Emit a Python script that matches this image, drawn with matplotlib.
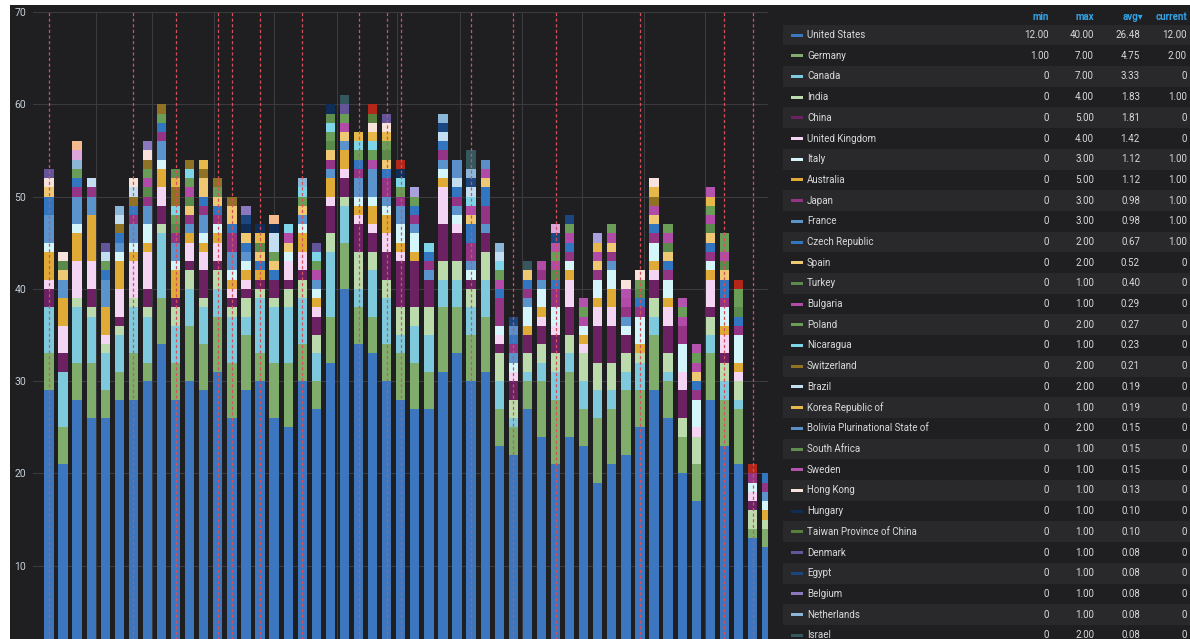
import numpy as np
import matplotlib.pyplot as plt
from matplotlib.patches import Rectangle

# ---- data: 52 weekly bars, values per country (stacked) ----
n_bars = 52

united_states = [29, 21, 28, 26, 26, 28, 28, 30, 34, 28, 30, 29, 31, 26, 29, 30, 26, 25, 30, 27,
                 32, 40, 34, 33, 30, 28, 27, 27, 31, 33, 30, 31, 23, 22, 27, 24, 21, 24, 23, 19,
                 21, 22, 25, 29, 26, 20, 17, 28, 23, 21, 13, 12]
germany = [4, 4, 4, 6, 3, 3, 5, 2, 5, 4, 6, 5, 6, 6, 6, 3, 6, 7, 4, 3,
           5, 5, 4, 4, 4, 5, 5, 4, 7, 5, 5, 6, 4, 3, 3, 6, 7, 7, 4, 7,
           6, 7, 4, 6, 4, 4, 4, 5, 5, 6, 1, 2]
canada = [5, 6, 6, 5, 4, 4, 5, 5, 7, 4, 4, 4, 3, 5, 2, 6, 6, 6, 5, 3,
          7, 4, 2, 5, 5, 2, 4, 4, 3, 3, 3, 4, 3, 1, 1, 2, 3, 2, 3, 3,
          2, 2, 3, 2, 1, 0, 0, 2, 2, 1, 0, 0]
india = [0, 0, 1, 1, 1, 1, 1, 1, 1, 2, 2, 1, 2, 1, 2, 1, 1, 2, 2, 2,
         2, 1, 4, 2, 2, 3, 2, 3, 2, 2, 2, 3, 3, 2, 2, 2, 2, 2, 3, 3,
         3, 2, 1, 2, 2, 2, 3, 2, 2, 2, 2, 1]
china = [2, 2, 0, 2, 0, 1, 0, 2, 2, 1, 1, 3, 1, 1, 1, 1, 2, 1, 1, 2,
         3, 2, 3, 2, 3, 5, 5, 3, 4, 3, 1, 2, 1, 2, 2, 2, 2, 3, 0, 4,
         4, 2, 0, 2, 3, 3, 0, 1, 1, 0, 1, 0]
united_kingdom = [1, 3, 4, 3, 1, 3, 4, 4, 2, 0, 2, 2, 2, 1, 1, 0, 0, 2, 2, 1,
                  1, 1, 1, 1, 2, 1, 0, 0, 4, 1, 0, 0, 1, 1, 0, 1, 1, 3, 1, 2,
                  2, 0, 0, 1, 2, 2, 1, 3, 2, 1, 1, 0]
australia = [3, 3, 3, 5, 3, 3, 1, 1, 2, 3, 1, 1, 1, 1, 1, 1, 0, 0, 2, 1,
             2, 2, 1, 2, 2, 1, 1, 0, 1, 0, 0, 0, 0, 0, 1, 1, 0, 1, 1, 1,
             2, 0, 1, 1, 1, 0, 0, 1, 1, 1, 0, 1]
italy = [1, 0, 1, 0, 0, 1, 1, 2, 1, 1, 0, 1, 1, 1, 1, 0, 0, 1, 1, 1,
         0, 0, 1, 1, 1, 2, 2, 0, 1, 1, 1, 0, 1, 1, 2, 2, 2, 1, 1, 2,
         2, 1, 3, 2, 2, 3, 3, 1, 2, 3, 1, 1]
france = [3, 2, 3, 2, 3, 1, 2, 2, 2, 2, 1, 2, 0, 2, 1, 0, 0, 0, 1, 1,
          1, 1, 2, 3, 1, 2, 1, 1, 1, 1, 1, 1, 0, 1, 1, 1, 0, 0, 0, 0,
          1, 1, 0, 0, 0, 0, 0, 0, 0, 0, 0, 1]
japan = [0, 0, 1, 1, 0, 0, 1, 1, 1, 1, 1, 1, 1, 2, 0, 0, 0, 0, 0, 0,
         1, 0, 1, 0, 2, 1, 1, 1, 1, 1, 2, 2, 3, 1, 1, 1, 2, 1, 0, 1,
         1, 1, 1, 1, 1, 2, 1, 1, 1, 1, 1, 1]
czech = [2, 0, 1, 0, 1, 1, 1, 0, 1, 0, 0, 1, 1, 1, 1, 1, 1, 0, 0, 0,
         0, 0, 1, 0, 1, 0, 1, 1, 1, 1, 2, 2, 1, 1, 1, 0, 1, 1, 0, 0,
         0, 0, 1, 1, 1, 0, 1, 1, 2, 1, 0, 1]
# smaller series: {bar index: count}
spain = {0: 1, 1: 1, 10: 1, 11: 2, 12: 1, 13: 2, 14: 1, 15: 1, 16: 1, 17: 1, 18: 1, 20: 1,
         21: 1, 24: 1, 30: 1, 31: 1, 34: 1, 39: 1, 40: 1, 43: 1, 44: 1, 46: 1, 47: 1, 48: 1}
turkey = {1: 1, 7: 1, 9: 1, 10: 1, 15: 1, 20: 1, 24: 1, 36: 1, 42: 1, 44: 1, 47: 1, 48: 1, 49: 1}
bulgaria = {7: 1, 10: 1, 17: 1, 19: 1, 21: 1, 23: 1, 30: 1, 31: 1, 32: 1, 35: 1, 36: 1,
            37: 1, 38: 1, 39: 1, 40: 1, 41: 1, 43: 1, 44: 1, 45: 1, 46: 1, 47: 1, 48: 1}
poland = {2: 1, 4: 1, 7: 1, 8: 1, 9: 1, 10: 1, 12: 1, 16: 1, 18: 1, 19: 1, 20: 1, 21: 1,
          22: 1, 23: 1, 24: 1, 25: 1, 26: 1, 32: 1, 36: 1, 37: 1, 38: 1, 40: 1, 42: 1,
          44: 1, 45: 1, 46: 1, 47: 1, 48: 2, 49: 2}
nicaragua = {9: 1, 10: 1, 17: 1, 18: 1, 19: 1, 20: 1, 22: 1, 23: 1, 25: 1, 27: 1, 30: 1, 32: 1}
switzerland = {5: 1, 6: 1, 7: 1, 8: 1, 9: 2, 10: 1, 11: 1, 12: 1, 13: 1, 43: 1}
brazil = {3: 1, 4: 1, 5: 1, 6: 1, 16: 2, 28: 1, 29: 1, 30: 1, 32: 1}
korea = {9: 1, 11: 1, 15: 1, 22: 1, 23: 1, 24: 1, 39: 1, 43: 1, 47: 1}
bolivia = {29: 2, 31: 1, 33: 1}
south_africa = {9: 1, 20: 1}
sweden = {36: 1, 38: 1, 41: 1, 45: 1, 46: 1, 47: 1}
hong_kong = {0: 1, 1: 1, 6: 1, 7: 1, 23: 1, 24: 1, 41: 1, 42: 1, 43: 1}
hungary = {14: 1, 15: 1, 16: 1, 20: 1, 25: 1}
taiwan = {23: 1}
denmark = {0: 1, 4: 1, 19: 1, 21: 1, 24: 1}
egypt = {14: 1, 28: 1, 30: 1, 33: 1, 36: 1, 37: 1}
belgium = {7: 1, 14: 1}
netherlands = {2: 1, 5: 1, 18: 1, 28: 1, 30: 1, 32: 1}
israel = {21: 1, 30: 2, 34: 1}
# series further down the (cut off) legend
other_red = {23: 1, 25: 1, 49: 1, 50: 1}
other_lavender = {2: 1, 36: 1}
other_peach = {2: 1, 16: 1}
other_lilac = {26: 1, 39: 1}

# legend table as displayed (sorted by avg)
legend_names = ["United States", "Germany", "Canada", "India", "China", "United Kingdom",
                "Italy", "Australia", "Japan", "France", "Czech Republic", "Spain", "Turkey",
                "Bulgaria", "Poland", "Nicaragua", "Switzerland", "Brazil", "Korea Republic of",
                "Bolivia Plurinational State of", "South Africa", "Sweden", "Hong Kong",
                "Hungary", "Taiwan Province of China", "Denmark", "Egypt", "Belgium",
                "Netherlands", "Israel"]
legend_min = [12, 1] + [0] * 28
legend_max = [40, 7, 7, 4, 5, 4, 3, 5, 3, 3, 2, 2, 1, 1, 2, 1, 2, 2, 1, 2,
              1, 1, 1, 1, 1, 1, 1, 1, 1, 2]
legend_avg = [26.48, 4.75, 3.33, 1.83, 1.81, 1.42, 1.12, 1.12, 0.98, 0.98, 0.67, 0.52,
              0.40, 0.29, 0.27, 0.23, 0.21, 0.19, 0.19, 0.15, 0.15, 0.15, 0.13, 0.10,
              0.10, 0.08, 0.08, 0.08, 0.08, 0.08]
legend_current = [12, 2, 0, 1, 0, 0, 1, 1, 1, 1, 1] + [0] * 19

# annotation markers (bar index) and month gridlines (in bar units)
annotation_bars = [0, 6, 9, 12, 13, 15, 18, 22, 24, 25, 30, 33, 36, 42, 48, 50]
month_lines = [3.34, 7.32, 11.73, 15.99, 20.47, 24.73, 29.21, 33.62, 37.88, 42.29, 46.62]

colors = {
    "United States": "#3b76be", "Germany": "#80ad6c", "Canada": "#7ecadc",
    "India": "#bcdbac", "China": "#6c2262", "United Kingdom": "#f4d5f3",
    "Italy": "#d4f6fa", "Australia": "#dfab36", "Japan": "#933584",
    "France": "#5b93cc", "Czech Republic": "#3276c2", "Spain": "#efc873",
    "Turkey": "#5a8a4c", "Bulgaria": "#b24aa8", "Poland": "#6a9d58",
    "Nicaragua": "#7fd5e8", "Switzerland": "#8f7224", "Brazil": "#c3ddf1",
    "Korea Republic of": "#e6b84a", "Bolivia Plurinational State of": "#5a8fca",
    "South Africa": "#5e8f4e", "Sweden": "#b453ad", "Hong Kong": "#f8e3dc",
    "Hungary": "#0f2d56", "Taiwan Province of China": "#57803f", "Denmark": "#64549a",
    "Egypt": "#1c4680", "Belgium": "#8a79be", "Netherlands": "#8bb6d8",
    "Israel": "#34585e", "other_red": "#b3261a", "other_lavender": "#dfa6dc",
    "other_peach": "#f3bb8e", "other_lilac": "#aaa0dc",
}


def dense(d):
    arr = np.zeros(n_bars)
    for k, v in d.items():
        arr[k] = v
    return arr


# stacking order (bottom to top)
stack = [
    ("United States", united_states), ("Germany", germany), ("Canada", canada),
    ("India", india), ("China", china), ("United Kingdom", united_kingdom),
    ("Australia", australia), ("Italy", italy), ("France", france), ("Japan", japan),
    ("Czech Republic", czech), ("Spain", spain), ("Turkey", turkey), ("Bulgaria", bulgaria),
    ("Poland", poland), ("Nicaragua", nicaragua), ("Switzerland", switzerland),
    ("Brazil", brazil), ("Korea Republic of", korea), ("Bolivia Plurinational State of", bolivia),
    ("South Africa", south_africa), ("Sweden", sweden), ("Hong Kong", hong_kong),
    ("Hungary", hungary), ("Taiwan Province of China", taiwan), ("Denmark", denmark),
    ("Egypt", egypt), ("Belgium", belgium), ("Netherlands", netherlands), ("Israel", israel),
    ("other_red", other_red), ("other_lavender", other_lavender),
    ("other_peach", other_peach), ("other_lilac", other_lilac),
]

W, H = 1190, 639
fig = plt.figure(figsize=(W / 100, H / 100), dpi=100)
fig.patch.set_facecolor("white")
bg = "#1f1f21"
fig.add_artist(Rectangle((10 / W, 0), 1 - 10 / W, 1 - 5 / H, transform=fig.transFigure,
                         facecolor=bg, edgecolor="none", zorder=0))

# plot area extends below the bottom of the image (y=0 is off-screen)
ax = fig.add_axes([33 / W, 1 - 658 / H, (768 - 33) / W, (658 - 12) / H])
ax.set_facecolor("none")
ax.set_xlim(-1.137, 51.1)
ax.set_ylim(0, 70)
for s in ax.spines.values():
    s.set_visible(False)

x = np.arange(n_bars)
bottom = np.zeros(n_bars)
for name, vals in stack:
    v = dense(vals) if isinstance(vals, dict) else np.array(vals, dtype=float)
    ax.bar(x, v, width=0.66, bottom=bottom, color=colors[name], linewidth=0, zorder=2)
    bottom += v

yt = list(range(10, 71, 10))
ax.set_yticks(yt)
ax.set_yticklabels([str(t) for t in yt], color="#c7d0d9", fontsize=7.5,
                   family=["Roboto", "DejaVu Sans"])
ax.tick_params(axis="y", length=0, pad=5)
ax.set_xticks([])
ax.grid(axis="y", color="#3b3b3f", linewidth=0.8, zorder=1)
for m in month_lines:
    ax.axvline(m, color="#3b3b3f", linewidth=0.8, zorder=1)
for b in annotation_bars:
    ax.vlines(b, 0, 70, colors="#d4505a", linewidth=0.9, linestyles=(0, (2.5, 2)),
              zorder=3)

# ---- legend table ----
font = ["Roboto", "DejaVu Sans"]


def fy(py):
    return 1 - py / H


def fmt(v):
    return "0" if v == 0 else "%.2f" % v


hdr_color = "#33a2e5"
for label, xr in [("min", 1049), ("max", 1094), ("avg\u25be", 1143), ("current", 1187)]:
    fig.text(xr / W, fy(17), label, color=hdr_color, fontsize=7, ha="right", va="center",
             family=font, fontweight="bold")

row_h = 20.7
for i, name in enumerate(legend_names):
    yc = 35 + i * row_h
    if i % 2 == 0:
        fig.add_artist(Rectangle((783 / W, fy(yc + row_h / 2)), (W - 783) / W, row_h / H,
                                 transform=fig.transFigure, facecolor="#29292c",
                                 edgecolor="none", zorder=1))
    fig.add_artist(Rectangle((791 / W, fy(yc + 1.5)), 12 / W, 3 / H, transform=fig.transFigure,
                             facecolor=colors[name], edgecolor="none", zorder=2))
    fig.text(807 / W, fy(yc), name, color="#d8d9da", fontsize=7, ha="left", va="center",
             family=font, zorder=3)
    for val, xr in [(legend_min[i], 1049), (legend_max[i], 1094), (legend_avg[i], 1140),
                    (legend_current[i], 1187)]:
        fig.text(xr / W, fy(yc), fmt(val), color="#d8d9da", fontsize=7, ha="right",
                 va="center", family=font, zorder=3)

fig.savefig("out.png", dpi=100, facecolor=fig.get_facecolor())
